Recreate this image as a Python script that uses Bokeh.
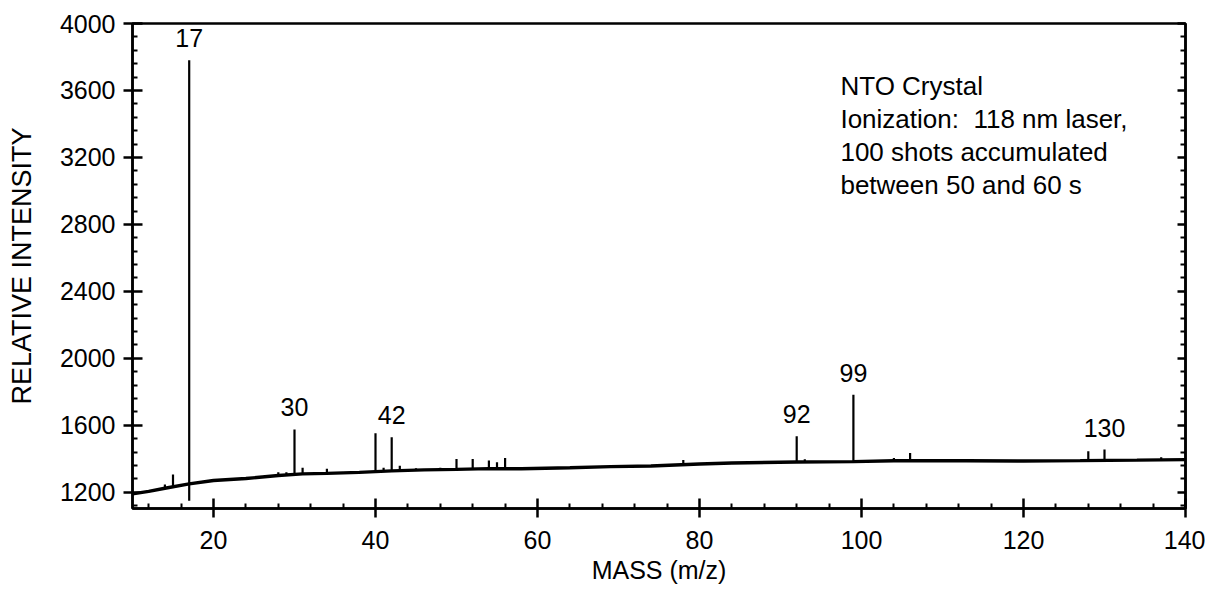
from bokeh.plotting import figure
from bokeh.models import FixedTicker, LinearAxis, Label, ColumnDataSource, Range1d
from bokeh.core.properties import value
from bokeh.embed import file_html
from bokeh.resources import INLINE

# ---- data ----
baseline_mass = [10, 12, 14, 17, 20, 24, 28, 31, 34, 38, 42, 46, 50, 54, 58, 64, 69, 74,
                 80, 84, 92, 99, 104, 113, 120, 127, 134, 140]
baseline_int = [1190, 1205, 1224, 1250, 1270, 1282, 1300, 1310, 1313, 1319, 1328, 1334, 1337,
                1341, 1340, 1346, 1353, 1357, 1369, 1375, 1381, 1383, 1388, 1388, 1387, 1389,
                1392, 1395]

peak_mass = [14, 15, 17, 28, 29, 30, 31, 34, 40, 41, 42, 43, 45, 48, 50, 52, 54, 55, 56,
             78, 92, 93, 99, 104, 106, 128, 130, 137]
peak_top = [1246, 1306, 3780, 1319, 1319, 1575, 1346, 1340, 1552, 1346, 1528, 1358, 1343,
            1346, 1399, 1399, 1389, 1380, 1405, 1393, 1535, 1397, 1783, 1405, 1435, 1445,
            1455, 1409]
peak_base = [1224, 1232, 1150, 1300, 1303, 1307, 1310, 1313, 1323, 1326, 1328, 1330, 1333,
             1335, 1337, 1339, 1341, 1341, 1341, 1365, 1381, 1381, 1383, 1388, 1388, 1389,
             1390, 1393]

labeled_peaks = [17, 30, 42, 92, 99, 130]

x_ticks = [20, 40, 60, 80, 100, 120, 140]
y_ticks = [1200, 1600, 2000, 2400, 2800, 3200, 3600, 4000]

note_lines = ["NTO Crystal", "Ionization:\u00a0 118 nm laser,", "100 shots accumulated",
              "between 50 and 60 s"]

FONT = "Liberation Sans"

p = figure(frame_width=1053, frame_height=485,
           x_range=Range1d(10, 140), y_range=Range1d(1103, 4000),
           output_backend="svg", toolbar_location=None,
           min_border_left=132, min_border_right=20, min_border_top=23,
           min_border_bottom=70, background_fill_color="white",
           border_fill_color="white")
p.xgrid.visible = False
p.ygrid.visible = False
p.outline_line_color = "black"
p.outline_line_width = 2.5
p.outline_line_alpha = 1.0

x_minor = [m for m in range(12, 141, 4) if m not in x_ticks]
y_minor = [v for v in range(1120, 4001, 80) if v not in y_ticks]

xax = p.xaxis[0]
left = p.yaxis[0]
xax.ticker = FixedTicker(ticks=x_ticks, minor_ticks=x_minor)
left.ticker = FixedTicker(ticks=y_ticks, minor_ticks=y_minor)

right = LinearAxis(ticker=FixedTicker(ticks=y_ticks, minor_ticks=y_minor),
                   major_label_overrides={v: "" for v in y_ticks})
p.add_layout(right, "right")

for ax in [xax, left, right]:
    ax.axis_line_width = 2.5
    ax.axis_line_color = "black"
    ax.major_tick_line_width = 2.5
    ax.minor_tick_line_width = 2
    ax.major_tick_line_color = "black"
    ax.minor_tick_line_color = "black"
    ax.major_tick_in = 10
    ax.major_tick_out = 9
    ax.minor_tick_in = 5
    ax.minor_tick_out = 0
    ax.major_label_text_font = FONT
    ax.major_label_text_font_size = "25px"
    ax.major_label_text_color = "black"
    ax.axis_label_text_font = FONT
    ax.axis_label_text_font_style = "normal"
    ax.axis_label_text_color = "black"

right.major_tick_out = 0
right.major_tick_in = 8
right.major_label_standoff = 0

xax.axis_label = "MASS (m/z)"
left.axis_label = "RELATIVE INTENSITY"
xax.axis_label_text_font_size = "25px"
left.axis_label_text_font_size = "27px"
xax.major_label_standoff = 13
left.major_label_standoff = 8
xax.axis_label_standoff = 4
left.axis_label_standoff = 20

# continuous trace
p.line(baseline_mass, baseline_int, line_color="black", line_width=3.4)

# peaks
src = ColumnDataSource(dict(m=peak_mass, b=peak_base, t=peak_top))
p.segment(x0="m", y0="b", x1="m", y1="t", source=src, line_color="black", line_width=2.2)

# peak labels
lab_x, lab_y, lab_t = [], [], []
for m in labeled_peaks:
    i = peak_mass.index(m)
    lab_x.append(m)
    lab_y.append(peak_top[i])
    lab_t.append(str(m))
lsrc = ColumnDataSource(dict(x=lab_x, y=lab_y, t=lab_t))
p.text(x="x", y="y", text="t", source=lsrc, text_align="center",
       text_baseline="alphabetic", y_offset=-22, text_font=value(FONT),
       text_font_size="25px", text_color="black")

# annotation block
for k, line in enumerate(note_lines):
    p.add_layout(Label(x=97.4, y=3574, y_offset=-33 * k + 9, text=line, text_font=FONT,
                       text_font_size="26px", text_color="black",
                       text_baseline="alphabetic", text_align="left"))

open("out.html", "w").write(file_html(p, INLINE))
